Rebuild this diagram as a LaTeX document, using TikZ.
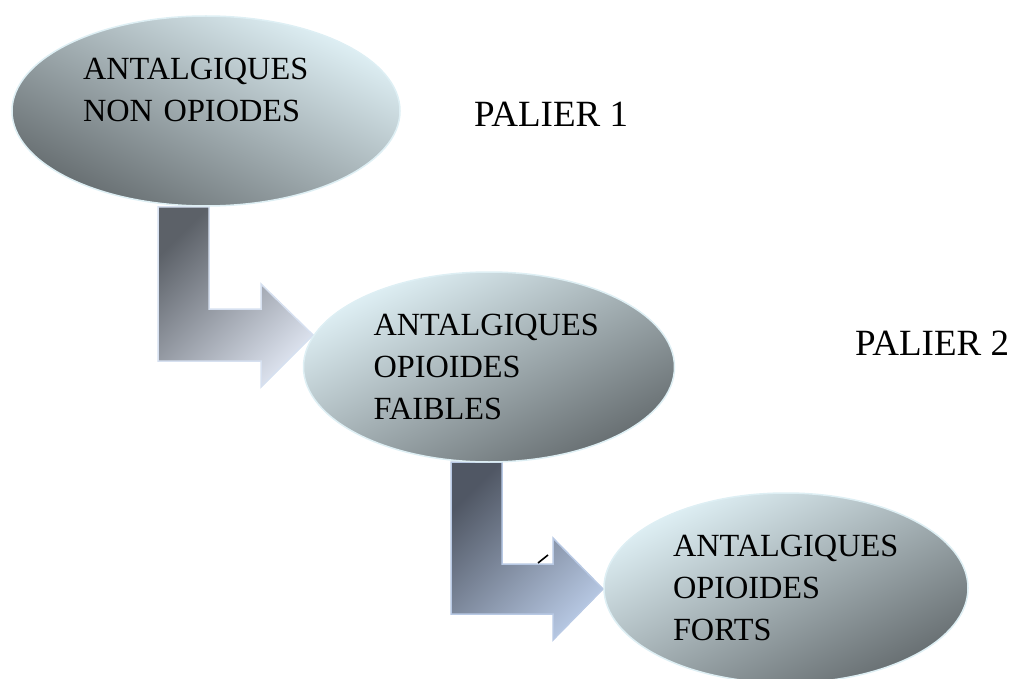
\documentclass[tikz,border=0pt]{standalone}
\usepackage{fontspec}
\setmainfont{Liberation Serif}
\usetikzlibrary{shapes.geometric}

\definecolor{bulleclair}{RGB}{224,241,246}
\definecolor{bullefonce}{RGB}{102,109,112}
\definecolor{bullebord}{RGB}{222,239,244}
\definecolor{flecheAfonce}{RGB}{92,97,104}
\definecolor{flecheAclair}{RGB}{220,226,238}
\definecolor{flecheAbord}{RGB}{214,224,240}
\definecolor{flecheBfonce}{RGB}{80,87,100}
\definecolor{flecheBclair}{RGB}{182,199,226}
\definecolor{flecheBbord}{RGB}{184,201,228}

\begin{document}
\begin{tikzpicture}[x=1pt,y=-1pt,
    bulle/.style={ellipse,draw=bullebord,line width=1.5pt,inner sep=0pt,
                  minimum height=190pt,align=left,
                  font=\fontsize{32.3}{42}\selectfont},
    palier/.style={inner sep=0pt,font=\fontsize{37}{44}\selectfont}]

          \useasboundingbox (0,0) rectangle (1012,679);

          % fleches coudees
          \filldraw[draw=flecheAbord,line width=1.5pt,
                    top color=flecheAfonce,bottom color=flecheAclair,shading angle=45]
                    (158,207) -- (209,207) -- (209,309) -- (261,309) -- (261,284)
                    -- (313,335) -- (261,387) -- (261,361) -- (158,361) -- cycle;
          \filldraw[draw=flecheBbord,line width=1.5pt,
                    top color=flecheBfonce,bottom color=flecheBclair,shading angle=45]
                    (451,462) -- (502,462) -- (502,564) -- (553,564) -- (553,538)
                    -- (603,589) -- (553,640) -- (553,614) -- (451,614) -- cycle;
          \draw[line width=1.6pt] (538,563) -- (548,555);

          \node[bulle,minimum width=388pt,text width=246pt,
                top color=bulleclair,bottom color=bullefonce,shading angle=-27]
                (non)    at (206,111) {ANTALGIQUES\\NON OPIODES\\~};
          \node[bulle,minimum width=371pt,text width=231pt,
                top color=bulleclair,bottom color=bullefonce,shading angle=27]
                (faible) at (489,367) {ANTALGIQUES\\OPIOIDES\\FAIBLES};
          \node[bulle,minimum width=364pt,text width=226pt,
                top color=bulleclair,bottom color=bullefonce,shading angle=27]
                (fort)   at (786,588) {ANTALGIQUES\\OPIOIDES\\FORTS};

          \node[palier,anchor=base west] (p1) at (474,127) {PALIER 1};
          \node[palier,anchor=base west] (p2) at (855,355) {PALIER 2};
        \end{tikzpicture}
\end{document}
